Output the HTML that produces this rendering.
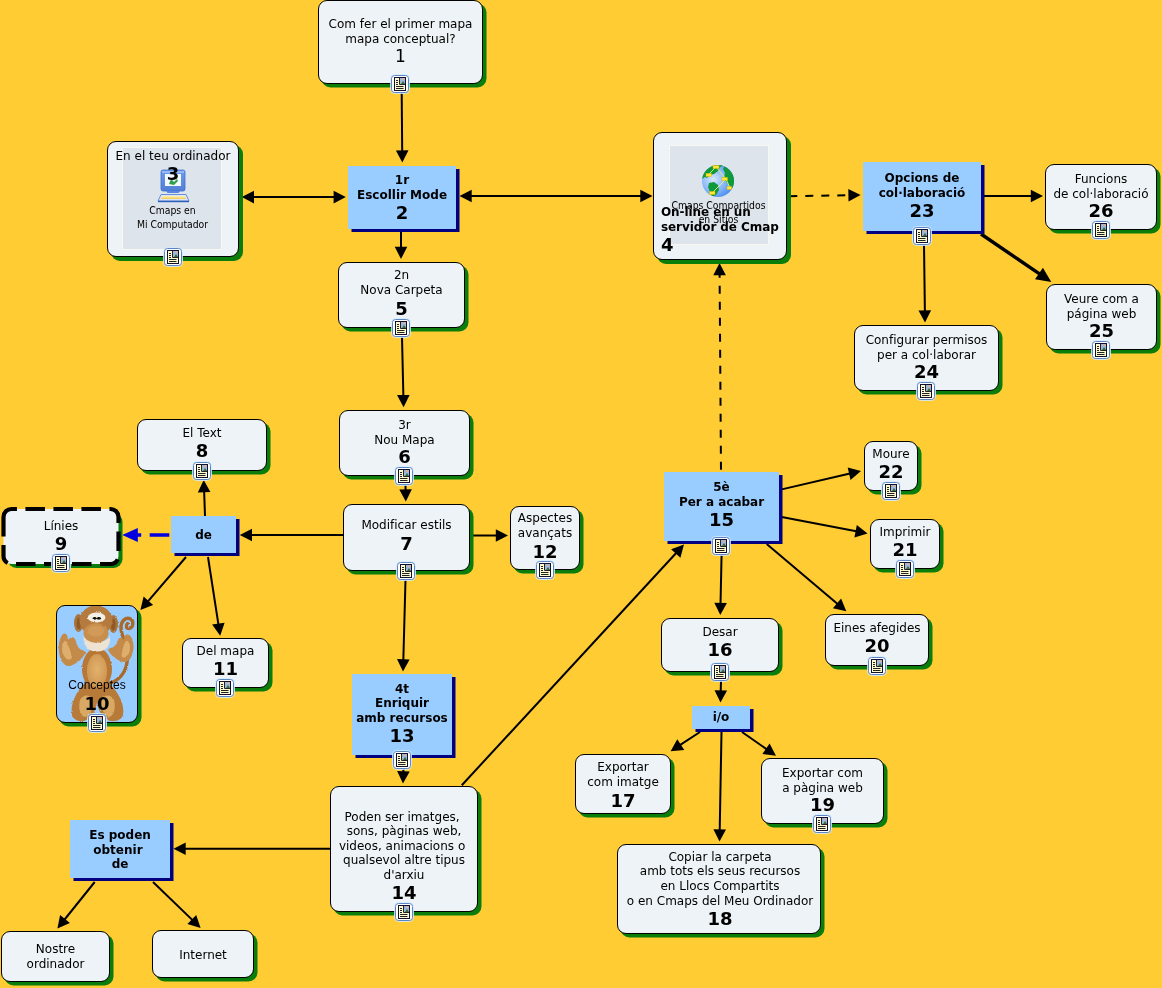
<!DOCTYPE html>
<html lang="ca"><head><meta charset="utf-8"><title>Com fer el primer mapa conceptual?</title>
<style>
html,body{margin:0;padding:0}
body{width:1162px;height:988px;background:#FFCC33;position:relative;overflow:hidden;font-family:"DejaVu Sans","Liberation Sans",sans-serif;font-size:12px;color:#000}
#edges{position:absolute;left:0;top:0}
.node{position:absolute;box-sizing:border-box;display:flex;align-items:center;justify-content:center;will-change:transform}
.w{background:#EDF3F6;border:1px solid #000;border-radius:9px;box-shadow:3.5px 3.5px 0 #0B7D0B}
.b{background:#99CCFF;box-shadow:3.5px 3px 0 #000080;font-weight:bold}
.t{position:relative;text-align:center;line-height:14.6px;white-space:nowrap}
.num{font-weight:bold;font-size:18px;line-height:18px;margin-top:2px}
.num.n1{font-weight:normal;font-size:17px}
.ic{position:absolute;overflow:visible}
.abs{position:absolute}
.img{position:absolute;background:#DEE4EB;border:1px solid #F8F8F0;box-sizing:border-box}
.numabs{font-weight:bold;font-size:18px;line-height:18px}
.tah{font-family:"DejaVu Sans Condensed","DejaVu Sans","Liberation Sans",sans-serif;font-size:10.3px;line-height:14px;white-space:nowrap}
.arial{font-family:"Liberation Sans",sans-serif;font-size:12px;line-height:14px}
</style></head><body>
<svg id="edges" width="1162" height="988" viewBox="0 0 1162 988">
<line x1="401.7" y1="93.0" x2="402.2" y2="152.3" stroke="#000" stroke-width="2"/>
<polygon points="402.3,162.5 395.9,150.4 408.5,150.2" fill="#000"/>
<line x1="252.0" y1="197.1" x2="335.6" y2="197.1" stroke="#000" stroke-width="2"/>
<polygon points="345.8,197.1 333.6,203.4 333.6,190.8" fill="#000"/>
<polygon points="241.8,197.1 254.0,190.8 254.0,203.4" fill="#000"/>
<line x1="469.7" y1="196.0" x2="642.3" y2="196.0" stroke="#000" stroke-width="2"/>
<polygon points="652.5,196.0 640.3,202.3 640.3,189.7" fill="#000"/>
<polygon points="459.5,196.0 471.7,189.7 471.7,202.3" fill="#000"/>
<line x1="401.0" y1="232.0" x2="401.0" y2="248.8" stroke="#000" stroke-width="2"/>
<polygon points="401.0,259.0 394.7,246.8 407.3,246.8" fill="#000"/>
<line x1="402.0" y1="337.0" x2="403.4" y2="397.0" stroke="#000" stroke-width="2"/>
<polygon points="403.6,407.2 397.0,395.1 409.6,394.9" fill="#000"/>
<line x1="405.5" y1="485.0" x2="405.6" y2="491.3" stroke="#000" stroke-width="2"/>
<polygon points="405.8,501.5 399.3,489.4 411.9,489.2" fill="#000"/>
<line x1="343.0" y1="535.0" x2="250.0" y2="535.0" stroke="#000" stroke-width="2"/>
<polygon points="239.8,535.0 252.0,528.7 252.0,541.3" fill="#000"/>
<line x1="470.0" y1="535.5" x2="497.8" y2="535.5" stroke="#000" stroke-width="2"/>
<polygon points="508.0,535.5 495.8,541.8 495.8,529.2" fill="#000"/>
<line x1="405.5" y1="580.0" x2="403.3" y2="661.3" stroke="#000" stroke-width="2"/>
<polygon points="403.0,671.5 397.0,659.1 409.6,659.5" fill="#000"/>
<line x1="205.0" y1="516.0" x2="204.1" y2="490.2" stroke="#000" stroke-width="2"/>
<polygon points="203.7,480.0 210.4,492.0 197.8,492.4" fill="#000"/>
<line x1="186.0" y1="557.0" x2="147.1" y2="602.3" stroke="#000" stroke-width="2"/>
<polygon points="140.4,610.0 143.6,596.6 153.1,604.9" fill="#000"/>
<line x1="208.0" y1="557.0" x2="218.6" y2="625.6" stroke="#000" stroke-width="2"/>
<polygon points="220.2,635.7 212.1,624.6 224.6,622.7" fill="#000"/>
<line x1="403.5" y1="768.0" x2="403.3" y2="773.3" stroke="#000" stroke-width="2"/>
<polygon points="403.0,783.5 397.1,771.1 409.7,771.5" fill="#000"/>
<line x1="331.0" y1="848.8" x2="183.7" y2="848.8" stroke="#000" stroke-width="2"/>
<polygon points="173.5,848.8 185.7,842.5 185.7,855.1" fill="#000"/>
<line x1="461.8" y1="785.2" x2="677.1" y2="552.0" stroke="#000" stroke-width="2"/>
<polygon points="684.0,544.5 680.4,557.7 671.1,549.2" fill="#000"/>
<line x1="94.7" y1="882.0" x2="63.8" y2="920.5" stroke="#000" stroke-width="2"/>
<polygon points="57.4,928.5 60.1,915.0 69.9,922.9" fill="#000"/>
<line x1="153.0" y1="882.0" x2="193.3" y2="920.9" stroke="#000" stroke-width="2"/>
<polygon points="200.6,928.0 187.4,924.1 196.2,915.0" fill="#000"/>
<line x1="721.0" y1="472.0" x2="719.6" y2="273.2" stroke="#000" stroke-width="2" stroke-dasharray="8 8" stroke-dashoffset="13.7"/>
<polygon points="719.5,263.0 725.9,275.2 713.3,275.2" fill="#000"/>
<line x1="787.0" y1="196.3" x2="850.4" y2="195.2" stroke="#000" stroke-width="2" stroke-dasharray="8 8" stroke-dashoffset="13.7"/>
<polygon points="860.6,195.0 848.5,201.5 848.3,188.9" fill="#000"/>
<line x1="984.0" y1="196.0" x2="1032.8" y2="196.0" stroke="#000" stroke-width="2"/>
<polygon points="1043.0,196.0 1030.8,202.3 1030.8,189.7" fill="#000"/>
<line x1="981.0" y1="234.0" x2="1040.6" y2="274.7" stroke="#000" stroke-width="3.4"/>
<polygon points="1051.3,282.0 1035.0,279.3 1042.9,267.8" fill="#000"/>
<line x1="924.0" y1="245.0" x2="924.9" y2="312.3" stroke="#000" stroke-width="2"/>
<polygon points="925.0,322.5 918.5,310.4 931.1,310.2" fill="#000"/>
<line x1="781.7" y1="489.4" x2="851.1" y2="473.3" stroke="#000" stroke-width="2"/>
<polygon points="861.0,471.0 850.5,479.9 847.7,467.6" fill="#000"/>
<line x1="781.7" y1="517.0" x2="857.6" y2="531.6" stroke="#000" stroke-width="2"/>
<polygon points="867.6,533.5 854.4,537.4 856.8,525.0" fill="#000"/>
<line x1="766.7" y1="544.0" x2="838.5" y2="604.7" stroke="#000" stroke-width="2"/>
<polygon points="846.3,611.3 832.9,608.2 841.1,598.6" fill="#000"/>
<line x1="721.6" y1="554.0" x2="720.5" y2="604.8" stroke="#000" stroke-width="2"/>
<polygon points="720.3,615.0 714.3,602.7 726.9,602.9" fill="#000"/>
<line x1="721.0" y1="681.0" x2="720.7" y2="692.3" stroke="#000" stroke-width="2"/>
<polygon points="720.5,702.5 714.5,690.2 727.1,690.4" fill="#000"/>
<line x1="700.0" y1="732.0" x2="679.1" y2="745.7" stroke="#000" stroke-width="2"/>
<polygon points="670.6,751.3 677.3,739.3 684.3,749.9" fill="#000"/>
<line x1="742.0" y1="732.0" x2="767.6" y2="749.9" stroke="#000" stroke-width="2"/>
<polygon points="776.0,755.7 762.4,753.9 769.6,743.6" fill="#000"/>
<line x1="721.5" y1="732.0" x2="719.7" y2="831.3" stroke="#000" stroke-width="2"/>
<polygon points="719.5,841.5 713.4,829.2 726.0,829.4" fill="#000"/>
<path d="M169.300 535H149.700M141.200 535H130" stroke="#0000E0" stroke-width="3.6" fill="none"/>
<polygon points="122.3,535.0 137.8,528.0 137.8,542.0" fill="#0000E0"/>
</svg>
<div class="node w" id="n1" style="left:318px;top:0px;width:165px;height:84px"><div class="t" style="top:-1px"><div class="l">Com fer el primer mapa</div><div class="l">mapa conceptual?</div><div class="num n1" style="margin-top:1px">1</div></div><svg class="ic" style="left:72px;bottom:-10px" width="18" height="18" viewBox="0 0 18 18"><rect x="-0.5" y="-0.5" width="19" height="19" rx="4" fill="none" stroke="#D6EBFF" stroke-opacity="0.85"/><rect x="0.5" y="0.5" width="17" height="17" rx="3" fill="#fff" stroke="#5B86C4"/><rect x="3.5" y="2.5" width="11" height="13" fill="#FFFBD0" stroke="#101030"/><rect x="8.5" y="3" width="5.5" height="6" fill="#9DB6DC"/><path d="M8.5 3v6.5h5.5" fill="none" stroke="#222" stroke-width="1"/><path d="M10 9l2-3 2 3z" fill="#3B6B3B"/><rect x="11.5" y="3.3" width="2" height="1.6" fill="#F0B080"/><path d="M5 5.5h2M5 7.5h2M5 9.5h2M5 11.5h7.5M5 13.5h7.5" stroke="#222" stroke-width="1"/></svg></div>
<div class="node w" id="n5" style="left:338px;top:262px;width:127px;height:66px"><div class="t" style="top:-2px"><div class="l">2n</div><div class="l">Nova Carpeta</div><div class="num">5</div></div><svg class="ic" style="left:53px;bottom:-10px" width="18" height="18" viewBox="0 0 18 18"><rect x="-0.5" y="-0.5" width="19" height="19" rx="4" fill="none" stroke="#D6EBFF" stroke-opacity="0.85"/><rect x="0.5" y="0.5" width="17" height="17" rx="3" fill="#fff" stroke="#5B86C4"/><rect x="3.5" y="2.5" width="11" height="13" fill="#FFFBD0" stroke="#101030"/><rect x="8.5" y="3" width="5.5" height="6" fill="#9DB6DC"/><path d="M8.5 3v6.5h5.5" fill="none" stroke="#222" stroke-width="1"/><path d="M10 9l2-3 2 3z" fill="#3B6B3B"/><rect x="11.5" y="3.3" width="2" height="1.6" fill="#F0B080"/><path d="M5 5.5h2M5 7.5h2M5 9.5h2M5 11.5h7.5M5 13.5h7.5" stroke="#222" stroke-width="1"/></svg></div>
<div class="node w" id="n6" style="left:339px;top:410px;width:131px;height:66px"><div class="t" style="top:-1px"><div class="l">3r</div><div class="l">Nou Mapa</div><div class="num" style="margin-top:1px">6</div></div><svg class="ic" style="left:55px;bottom:-10px" width="18" height="18" viewBox="0 0 18 18"><rect x="-0.5" y="-0.5" width="19" height="19" rx="4" fill="none" stroke="#D6EBFF" stroke-opacity="0.85"/><rect x="0.5" y="0.5" width="17" height="17" rx="3" fill="#fff" stroke="#5B86C4"/><rect x="3.5" y="2.5" width="11" height="13" fill="#FFFBD0" stroke="#101030"/><rect x="8.5" y="3" width="5.5" height="6" fill="#9DB6DC"/><path d="M8.5 3v6.5h5.5" fill="none" stroke="#222" stroke-width="1"/><path d="M10 9l2-3 2 3z" fill="#3B6B3B"/><rect x="11.5" y="3.3" width="2" height="1.6" fill="#F0B080"/><path d="M5 5.5h2M5 7.5h2M5 9.5h2M5 11.5h7.5M5 13.5h7.5" stroke="#222" stroke-width="1"/></svg></div>
<div class="node w" id="n7" style="left:343px;top:504px;width:127px;height:67px"><div class="t" style="top:-2px"><div class="l">Modificar estils</div><div class="num">7</div></div><svg class="ic" style="left:53px;bottom:-10px" width="18" height="18" viewBox="0 0 18 18"><rect x="-0.5" y="-0.5" width="19" height="19" rx="4" fill="none" stroke="#D6EBFF" stroke-opacity="0.85"/><rect x="0.5" y="0.5" width="17" height="17" rx="3" fill="#fff" stroke="#5B86C4"/><rect x="3.5" y="2.5" width="11" height="13" fill="#FFFBD0" stroke="#101030"/><rect x="8.5" y="3" width="5.5" height="6" fill="#9DB6DC"/><path d="M8.5 3v6.5h5.5" fill="none" stroke="#222" stroke-width="1"/><path d="M10 9l2-3 2 3z" fill="#3B6B3B"/><rect x="11.5" y="3.3" width="2" height="1.6" fill="#F0B080"/><path d="M5 5.5h2M5 7.5h2M5 9.5h2M5 11.5h7.5M5 13.5h7.5" stroke="#222" stroke-width="1"/></svg></div>
<div class="node w" id="n12" style="left:510px;top:506px;width:70px;height:64px"><div class="t" style="top:-2px"><div class="l">Aspectes</div><div class="l">avançats</div><div class="num">12</div></div><svg class="ic" style="left:25px;bottom:-10px" width="18" height="18" viewBox="0 0 18 18"><rect x="-0.5" y="-0.5" width="19" height="19" rx="4" fill="none" stroke="#D6EBFF" stroke-opacity="0.85"/><rect x="0.5" y="0.5" width="17" height="17" rx="3" fill="#fff" stroke="#5B86C4"/><rect x="3.5" y="2.5" width="11" height="13" fill="#FFFBD0" stroke="#101030"/><rect x="8.5" y="3" width="5.5" height="6" fill="#9DB6DC"/><path d="M8.5 3v6.5h5.5" fill="none" stroke="#222" stroke-width="1"/><path d="M10 9l2-3 2 3z" fill="#3B6B3B"/><rect x="11.5" y="3.3" width="2" height="1.6" fill="#F0B080"/><path d="M5 5.5h2M5 7.5h2M5 9.5h2M5 11.5h7.5M5 13.5h7.5" stroke="#222" stroke-width="1"/></svg></div>
<div class="node w" id="n8" style="left:137px;top:419px;width:130px;height:52px"><div class="t" style="top:-2px"><div class="l">El Text</div><div class="num">8</div></div><svg class="ic" style="left:55px;bottom:-10px" width="18" height="18" viewBox="0 0 18 18"><rect x="-0.5" y="-0.5" width="19" height="19" rx="4" fill="none" stroke="#D6EBFF" stroke-opacity="0.85"/><rect x="0.5" y="0.5" width="17" height="17" rx="3" fill="#fff" stroke="#5B86C4"/><rect x="3.5" y="2.5" width="11" height="13" fill="#FFFBD0" stroke="#101030"/><rect x="8.5" y="3" width="5.5" height="6" fill="#9DB6DC"/><path d="M8.5 3v6.5h5.5" fill="none" stroke="#222" stroke-width="1"/><path d="M10 9l2-3 2 3z" fill="#3B6B3B"/><rect x="11.5" y="3.3" width="2" height="1.6" fill="#F0B080"/><path d="M5 5.5h2M5 7.5h2M5 9.5h2M5 11.5h7.5M5 13.5h7.5" stroke="#222" stroke-width="1"/></svg></div>
<div class="node w" id="n11" style="left:182px;top:638px;width:87px;height:50px"><div class="t" style="top:-2px"><div class="l">Del mapa</div><div class="num">11</div></div><svg class="ic" style="left:33px;bottom:-10px" width="18" height="18" viewBox="0 0 18 18"><rect x="-0.5" y="-0.5" width="19" height="19" rx="4" fill="none" stroke="#D6EBFF" stroke-opacity="0.85"/><rect x="0.5" y="0.5" width="17" height="17" rx="3" fill="#fff" stroke="#5B86C4"/><rect x="3.5" y="2.5" width="11" height="13" fill="#FFFBD0" stroke="#101030"/><rect x="8.5" y="3" width="5.5" height="6" fill="#9DB6DC"/><path d="M8.5 3v6.5h5.5" fill="none" stroke="#222" stroke-width="1"/><path d="M10 9l2-3 2 3z" fill="#3B6B3B"/><rect x="11.5" y="3.3" width="2" height="1.6" fill="#F0B080"/><path d="M5 5.5h2M5 7.5h2M5 9.5h2M5 11.5h7.5M5 13.5h7.5" stroke="#222" stroke-width="1"/></svg></div>
<div class="node w" id="n14" style="left:330px;top:786px;width:148px;height:126px"><div class="t" style="top:7px"><div class="l">Poden ser imatges,&nbsp;</div><div class="l">sons, pàginas web,</div><div class="l">videos, animacions o&nbsp;</div><div class="l">qualsevol altre tipus</div><div class="l">d'arxiu</div><div class="num">14</div></div><svg class="ic" style="left:64px;bottom:-10px" width="18" height="18" viewBox="0 0 18 18"><rect x="-0.5" y="-0.5" width="19" height="19" rx="4" fill="none" stroke="#D6EBFF" stroke-opacity="0.85"/><rect x="0.5" y="0.5" width="17" height="17" rx="3" fill="#fff" stroke="#5B86C4"/><rect x="3.5" y="2.5" width="11" height="13" fill="#FFFBD0" stroke="#101030"/><rect x="8.5" y="3" width="5.5" height="6" fill="#9DB6DC"/><path d="M8.5 3v6.5h5.5" fill="none" stroke="#222" stroke-width="1"/><path d="M10 9l2-3 2 3z" fill="#3B6B3B"/><rect x="11.5" y="3.3" width="2" height="1.6" fill="#F0B080"/><path d="M5 5.5h2M5 7.5h2M5 9.5h2M5 11.5h7.5M5 13.5h7.5" stroke="#222" stroke-width="1"/></svg></div>
<div class="node w" id="nno" style="left:1px;top:931px;width:109px;height:51px"><div class="t" style="top:0px"><div class="l">Nostre</div><div class="l">ordinador</div></div></div>
<div class="node w" id="nin" style="left:152px;top:930px;width:102px;height:48px"><div class="t" style="top:1px"><div class="l">Internet</div></div></div>
<div class="node w" id="n22" style="left:864px;top:441px;width:54px;height:50px"><div class="t" style="top:-2px"><div class="l">Moure</div><div class="num">22</div></div><svg class="ic" style="left:17px;bottom:-10px" width="18" height="18" viewBox="0 0 18 18"><rect x="-0.5" y="-0.5" width="19" height="19" rx="4" fill="none" stroke="#D6EBFF" stroke-opacity="0.85"/><rect x="0.5" y="0.5" width="17" height="17" rx="3" fill="#fff" stroke="#5B86C4"/><rect x="3.5" y="2.5" width="11" height="13" fill="#FFFBD0" stroke="#101030"/><rect x="8.5" y="3" width="5.5" height="6" fill="#9DB6DC"/><path d="M8.5 3v6.5h5.5" fill="none" stroke="#222" stroke-width="1"/><path d="M10 9l2-3 2 3z" fill="#3B6B3B"/><rect x="11.5" y="3.3" width="2" height="1.6" fill="#F0B080"/><path d="M5 5.5h2M5 7.5h2M5 9.5h2M5 11.5h7.5M5 13.5h7.5" stroke="#222" stroke-width="1"/></svg></div>
<div class="node w" id="n21" style="left:870px;top:519px;width:70px;height:50px"><div class="t" style="top:-2px"><div class="l">Imprimir</div><div class="num">21</div></div><svg class="ic" style="left:25px;bottom:-10px" width="18" height="18" viewBox="0 0 18 18"><rect x="-0.5" y="-0.5" width="19" height="19" rx="4" fill="none" stroke="#D6EBFF" stroke-opacity="0.85"/><rect x="0.5" y="0.5" width="17" height="17" rx="3" fill="#fff" stroke="#5B86C4"/><rect x="3.5" y="2.5" width="11" height="13" fill="#FFFBD0" stroke="#101030"/><rect x="8.5" y="3" width="5.5" height="6" fill="#9DB6DC"/><path d="M8.5 3v6.5h5.5" fill="none" stroke="#222" stroke-width="1"/><path d="M10 9l2-3 2 3z" fill="#3B6B3B"/><rect x="11.5" y="3.3" width="2" height="1.6" fill="#F0B080"/><path d="M5 5.5h2M5 7.5h2M5 9.5h2M5 11.5h7.5M5 13.5h7.5" stroke="#222" stroke-width="1"/></svg></div>
<div class="node w" id="n20" style="left:825px;top:614px;width:104px;height:52px"><div class="t" style="top:-2px"><div class="l">Eines afegides</div><div class="num">20</div></div><svg class="ic" style="left:42px;bottom:-10px" width="18" height="18" viewBox="0 0 18 18"><rect x="-0.5" y="-0.5" width="19" height="19" rx="4" fill="none" stroke="#D6EBFF" stroke-opacity="0.85"/><rect x="0.5" y="0.5" width="17" height="17" rx="3" fill="#fff" stroke="#5B86C4"/><rect x="3.5" y="2.5" width="11" height="13" fill="#FFFBD0" stroke="#101030"/><rect x="8.5" y="3" width="5.5" height="6" fill="#9DB6DC"/><path d="M8.5 3v6.5h5.5" fill="none" stroke="#222" stroke-width="1"/><path d="M10 9l2-3 2 3z" fill="#3B6B3B"/><rect x="11.5" y="3.3" width="2" height="1.6" fill="#F0B080"/><path d="M5 5.5h2M5 7.5h2M5 9.5h2M5 11.5h7.5M5 13.5h7.5" stroke="#222" stroke-width="1"/></svg></div>
<div class="node w" id="n16" style="left:661px;top:618px;width:118px;height:54px"><div class="t" style="top:-3px"><div class="l">Desar</div><div class="num">16</div></div><svg class="ic" style="left:49px;bottom:-10px" width="18" height="18" viewBox="0 0 18 18"><rect x="-0.5" y="-0.5" width="19" height="19" rx="4" fill="none" stroke="#D6EBFF" stroke-opacity="0.85"/><rect x="0.5" y="0.5" width="17" height="17" rx="3" fill="#fff" stroke="#5B86C4"/><rect x="3.5" y="2.5" width="11" height="13" fill="#FFFBD0" stroke="#101030"/><rect x="8.5" y="3" width="5.5" height="6" fill="#9DB6DC"/><path d="M8.5 3v6.5h5.5" fill="none" stroke="#222" stroke-width="1"/><path d="M10 9l2-3 2 3z" fill="#3B6B3B"/><rect x="11.5" y="3.3" width="2" height="1.6" fill="#F0B080"/><path d="M5 5.5h2M5 7.5h2M5 9.5h2M5 11.5h7.5M5 13.5h7.5" stroke="#222" stroke-width="1"/></svg></div>
<div class="node w" id="n17" style="left:575px;top:754px;width:96px;height:60px"><div class="t" style="top:1px"><div class="l">Exportar</div><div class="l">com imatge</div><div class="num">17</div></div></div>
<div class="node w" id="n19" style="left:761px;top:758px;width:123px;height:66px"><div class="t" style="top:-1px"><div class="l">Exportar com</div><div class="l">a pàgina web</div><div class="num" style="margin-top:1px">19</div></div><svg class="ic" style="left:51px;bottom:-10px" width="18" height="18" viewBox="0 0 18 18"><rect x="-0.5" y="-0.5" width="19" height="19" rx="4" fill="none" stroke="#D6EBFF" stroke-opacity="0.85"/><rect x="0.5" y="0.5" width="17" height="17" rx="3" fill="#fff" stroke="#5B86C4"/><rect x="3.5" y="2.5" width="11" height="13" fill="#FFFBD0" stroke="#101030"/><rect x="8.5" y="3" width="5.5" height="6" fill="#9DB6DC"/><path d="M8.5 3v6.5h5.5" fill="none" stroke="#222" stroke-width="1"/><path d="M10 9l2-3 2 3z" fill="#3B6B3B"/><rect x="11.5" y="3.3" width="2" height="1.6" fill="#F0B080"/><path d="M5 5.5h2M5 7.5h2M5 9.5h2M5 11.5h7.5M5 13.5h7.5" stroke="#222" stroke-width="1"/></svg></div>
<div class="node w" id="n18" style="left:617px;top:844px;width:204px;height:90px"><div class="t" style="top:0px;left:1px"><div class="l">Copiar la carpeta</div><div class="l">amb tots els seus recursos</div><div class="l">en Llocs Compartits</div><div class="l">o en Cmaps del Meu Ordinador</div><div class="num">18</div></div></div>
<div class="node w" id="n26" style="left:1045px;top:164px;width:112px;height:66px"><div class="t" style="top:-1px"><div class="l">Funcions</div><div class="l">de col·laboració</div><div class="num" style="margin-top:1px">26</div></div><svg class="ic" style="left:46px;bottom:-10px" width="18" height="18" viewBox="0 0 18 18"><rect x="-0.5" y="-0.5" width="19" height="19" rx="4" fill="none" stroke="#D6EBFF" stroke-opacity="0.85"/><rect x="0.5" y="0.5" width="17" height="17" rx="3" fill="#fff" stroke="#5B86C4"/><rect x="3.5" y="2.5" width="11" height="13" fill="#FFFBD0" stroke="#101030"/><rect x="8.5" y="3" width="5.5" height="6" fill="#9DB6DC"/><path d="M8.5 3v6.5h5.5" fill="none" stroke="#222" stroke-width="1"/><path d="M10 9l2-3 2 3z" fill="#3B6B3B"/><rect x="11.5" y="3.3" width="2" height="1.6" fill="#F0B080"/><path d="M5 5.5h2M5 7.5h2M5 9.5h2M5 11.5h7.5M5 13.5h7.5" stroke="#222" stroke-width="1"/></svg></div>
<div class="node w" id="n25" style="left:1046px;top:284px;width:111px;height:66px"><div class="t" style="top:-1px"><div class="l">Veure com a</div><div class="l">página web</div><div class="num" style="margin-top:1px">25</div></div><svg class="ic" style="left:45px;bottom:-10px" width="18" height="18" viewBox="0 0 18 18"><rect x="-0.5" y="-0.5" width="19" height="19" rx="4" fill="none" stroke="#D6EBFF" stroke-opacity="0.85"/><rect x="0.5" y="0.5" width="17" height="17" rx="3" fill="#fff" stroke="#5B86C4"/><rect x="3.5" y="2.5" width="11" height="13" fill="#FFFBD0" stroke="#101030"/><rect x="8.5" y="3" width="5.5" height="6" fill="#9DB6DC"/><path d="M8.5 3v6.5h5.5" fill="none" stroke="#222" stroke-width="1"/><path d="M10 9l2-3 2 3z" fill="#3B6B3B"/><rect x="11.5" y="3.3" width="2" height="1.6" fill="#F0B080"/><path d="M5 5.5h2M5 7.5h2M5 9.5h2M5 11.5h7.5M5 13.5h7.5" stroke="#222" stroke-width="1"/></svg></div>
<div class="node w" id="n24" style="left:854px;top:325px;width:145px;height:66px"><div class="t" style="top:-1px"><div class="l">Configurar permisos</div><div class="l">per a col·laborar</div><div class="num" style="margin-top:1px">24</div></div><svg class="ic" style="left:62px;bottom:-10px" width="18" height="18" viewBox="0 0 18 18"><rect x="-0.5" y="-0.5" width="19" height="19" rx="4" fill="none" stroke="#D6EBFF" stroke-opacity="0.85"/><rect x="0.5" y="0.5" width="17" height="17" rx="3" fill="#fff" stroke="#5B86C4"/><rect x="3.5" y="2.5" width="11" height="13" fill="#FFFBD0" stroke="#101030"/><rect x="8.5" y="3" width="5.5" height="6" fill="#9DB6DC"/><path d="M8.5 3v6.5h5.5" fill="none" stroke="#222" stroke-width="1"/><path d="M10 9l2-3 2 3z" fill="#3B6B3B"/><rect x="11.5" y="3.3" width="2" height="1.6" fill="#F0B080"/><path d="M5 5.5h2M5 7.5h2M5 9.5h2M5 11.5h7.5M5 13.5h7.5" stroke="#222" stroke-width="1"/></svg></div>
<div class="node b" id="b2" style="left:348px;top:166px;width:108px;height:63px"><div class="t" style="top:0px"><div class="l">1r</div><div class="l">Escollir Mode</div><div class="num">2</div></div></div>
<div class="node b" id="b23" style="left:863px;top:162px;width:118px;height:69px"><div class="t" style="top:-1px"><div class="l">Opcions de</div><div class="l">col·laboració</div><div class="num">23</div></div><svg class="ic" style="left:50px;bottom:-14px" width="18" height="18" viewBox="0 0 18 18"><rect x="-0.5" y="-0.5" width="19" height="19" rx="4" fill="none" stroke="#D6EBFF" stroke-opacity="0.85"/><rect x="0.5" y="0.5" width="17" height="17" rx="3" fill="#fff" stroke="#5B86C4"/><rect x="3.5" y="2.5" width="11" height="13" fill="#FFFBD0" stroke="#101030"/><rect x="8.5" y="3" width="5.5" height="6" fill="#9DB6DC"/><path d="M8.5 3v6.5h5.5" fill="none" stroke="#222" stroke-width="1"/><path d="M10 9l2-3 2 3z" fill="#3B6B3B"/><rect x="11.5" y="3.3" width="2" height="1.6" fill="#F0B080"/><path d="M5 5.5h2M5 7.5h2M5 9.5h2M5 11.5h7.5M5 13.5h7.5" stroke="#222" stroke-width="1"/></svg></div>
<div class="node b" id="bde" style="left:171px;top:516px;width:65px;height:37px"><div class="t" style="top:1px"><div class="l">de</div></div></div>
<div class="node b" id="b13" style="left:352px;top:674px;width:100px;height:81px"><div class="t" style="top:-1px"><div class="l">4t</div><div class="l">Enriquir</div><div class="l">amb recursos</div><div class="num">13</div></div><svg class="ic" style="left:41px;bottom:-14px" width="18" height="18" viewBox="0 0 18 18"><rect x="-0.5" y="-0.5" width="19" height="19" rx="4" fill="none" stroke="#D6EBFF" stroke-opacity="0.85"/><rect x="0.5" y="0.5" width="17" height="17" rx="3" fill="#fff" stroke="#5B86C4"/><rect x="3.5" y="2.5" width="11" height="13" fill="#FFFBD0" stroke="#101030"/><rect x="8.5" y="3" width="5.5" height="6" fill="#9DB6DC"/><path d="M8.5 3v6.5h5.5" fill="none" stroke="#222" stroke-width="1"/><path d="M10 9l2-3 2 3z" fill="#3B6B3B"/><rect x="11.5" y="3.3" width="2" height="1.6" fill="#F0B080"/><path d="M5 5.5h2M5 7.5h2M5 9.5h2M5 11.5h7.5M5 13.5h7.5" stroke="#222" stroke-width="1"/></svg></div>
<div class="node b" id="bes" style="left:70px;top:820px;width:100px;height:58px"><div class="t" style="top:1px"><div class="l">Es poden</div><div class="l">obtenir&nbsp;</div><div class="l">de</div></div></div>
<div class="node b" id="b15" style="left:664px;top:472px;width:115px;height:69px"><div class="t" style="top:-2px"><div class="l">5è</div><div class="l">Per a acabar</div><div class="num">15</div></div><svg class="ic" style="left:48px;bottom:-14px" width="18" height="18" viewBox="0 0 18 18"><rect x="-0.5" y="-0.5" width="19" height="19" rx="4" fill="none" stroke="#D6EBFF" stroke-opacity="0.85"/><rect x="0.5" y="0.5" width="17" height="17" rx="3" fill="#fff" stroke="#5B86C4"/><rect x="3.5" y="2.5" width="11" height="13" fill="#FFFBD0" stroke="#101030"/><rect x="8.5" y="3" width="5.5" height="6" fill="#9DB6DC"/><path d="M8.5 3v6.5h5.5" fill="none" stroke="#222" stroke-width="1"/><path d="M10 9l2-3 2 3z" fill="#3B6B3B"/><rect x="11.5" y="3.3" width="2" height="1.6" fill="#F0B080"/><path d="M5 5.5h2M5 7.5h2M5 9.5h2M5 11.5h7.5M5 13.5h7.5" stroke="#222" stroke-width="1"/></svg></div>
<div class="node b" id="bio" style="left:692px;top:706px;width:58px;height:23px"><div class="t" style="top:0px"><div class="l">i/o</div></div></div>
<div class="node w" id="n3" style="left:107px;top:141px;width:132px;height:116px;display:block;box-shadow:4px 4px 0 #0B7D0B">
<div class="img" style="left:14px;top:5px;width:100px;height:103px"></div>
<div class="abs" style="left:0;width:130px;top:7px;text-align:center;line-height:15px">En el teu ordinador</div>
<svg class="abs" style="left:48px;top:26px" width="36" height="36" viewBox="0 0 36 36">
<defs><linearGradient id="mon" x1="0" y1="0" x2="0" y2="1"><stop offset="0" stop-color="#6F9CEB"/><stop offset="1" stop-color="#4F7FD6"/></linearGradient>
<linearGradient id="kb" x1="0" y1="0" x2="0" y2="1"><stop offset="0" stop-color="#FFF3B0"/><stop offset="1" stop-color="#F3C95A"/></linearGradient></defs>
<rect x="5" y="2" width="24" height="21" rx="2" fill="url(#mon)" stroke="#3F6FD0" stroke-width="0.8"/>
<rect x="6" y="3" width="22" height="2" fill="#A9C4F5" opacity="0.7"/>
<rect x="9" y="6" width="16" height="12" fill="#F4FAFF"/>
<path d="M13 16l2-5 3 3 3-3 1 2-4 4z" fill="#2FA04A"/>
<path d="M10 23h14l-1.500 2h-11z" fill="#5C86DE"/>
<path d="M5 26.500h25l3 6.500h-31z" fill="#DCE6F7" stroke="#4A78D0" stroke-width="0.8"/>
<path d="M6.500 28h22l1.600 3h-25.200z" fill="url(#kb)"/>
<path d="M2 33.500h31" stroke="#2E5FB8" stroke-width="1.400"/>
</svg>
<div class="abs numabs" style="left:0;width:130px;top:23px;text-align:center">3</div>
<div class="abs tah" style="left:0;width:129px;top:61px;text-align:center">Cmaps en<br>Mi Computador</div>
<svg class="ic" style="left:56px;bottom:-10px" width="18" height="18" viewBox="0 0 18 18"><rect x="-0.5" y="-0.5" width="19" height="19" rx="4" fill="none" stroke="#D6EBFF" stroke-opacity="0.85"/><rect x="0.5" y="0.5" width="17" height="17" rx="3" fill="#fff" stroke="#5B86C4"/><rect x="3.5" y="2.5" width="11" height="13" fill="#FFFBD0" stroke="#101030"/><rect x="8.5" y="3" width="5.5" height="6" fill="#9DB6DC"/><path d="M8.5 3v6.5h5.5" fill="none" stroke="#222" stroke-width="1"/><path d="M10 9l2-3 2 3z" fill="#3B6B3B"/><rect x="11.5" y="3.3" width="2" height="1.6" fill="#F0B080"/><path d="M5 5.5h2M5 7.5h2M5 9.5h2M5 11.5h7.5M5 13.5h7.5" stroke="#222" stroke-width="1"/></svg></div>
<div class="node w" id="n4" style="left:653px;top:132px;width:134px;height:128px;display:block;box-shadow:4px 4px 0 #0B7D0B">
<div class="img" style="left:15px;top:12px;width:100px;height:100px"></div>
<svg class="abs" style="left:46px;top:30px" width="36" height="36" viewBox="0 0 36 36">
<defs><radialGradient id="gl" cx="0.35" cy="0.45" r="0.75"><stop offset="0" stop-color="#D8E8FF"/><stop offset="0.55" stop-color="#7FB0F8"/><stop offset="1" stop-color="#2F7BF0"/></radialGradient>
<clipPath id="gc"><circle cx="18" cy="18" r="16"/></clipPath></defs>
<circle cx="18" cy="18" r="16" fill="url(#gl)"/>
<g clip-path="url(#gc)" fill="#0E9A3A">
<path d="M0 0h26l-3 3 -3 1 -2 4 -4 3 -4 1 -3 3 -2 -1 -3 2 -2 4z"/>
<path d="M25 2l9 8 2 16 -5 -2 -4 -4 -3 -5 1 -5 -2 -4z"/>
<path d="M9 20l5-1 4 3 1 5-3 5-4 2-2-5-2-5z"/>
</g>
<path d="M8 12l8-8 10 12 4 9M26 16L12 30" stroke="#E8F870" stroke-width="0.9" fill="none"/>
<g fill="#FFE838" stroke="#D9B800" stroke-width="0.500"><rect x="13" y="2.500" width="6" height="3"/><rect x="6" y="10.500" width="5.500" height="3"/><rect x="22" y="14.500" width="5.500" height="3"/><rect x="27" y="23.500" width="4.500" height="3"/><rect x="9.500" y="28.500" width="5.500" height="3"/></g>
</svg>
<div class="abs tah" style="left:15px;width:99px;top:65px;text-align:center;line-height:14px">Cmaps Compartidos<br>en Sitios</div>
<div class="abs" style="left:7px;top:72px;font-weight:bold;line-height:14.500px;white-space:nowrap;letter-spacing:-0.080px">On-line en un<br>servidor de Cmap</div>
<div class="abs numabs" style="left:7px;top:103px">4</div>
</div>
<svg class="abs" style="left:0;top:500px" width="130" height="80" viewBox="0 500 130 80">
<rect x="7.500" y="513" width="115" height="55" rx="9" fill="#0B7D0B"/>
<path d="M3.500 517V556A8 8 0 0 0 11.500 564H110.500A8 8 0 0 0 118.500 556V517A8 8 0 0 0 110.500 509H11.500A8 8 0 0 0 3.500 517Z" fill="#EDF3F6" stroke="#000" stroke-width="4.200" stroke-dasharray="19.500 8.500"/>
</svg>
<div class="node" id="n9" style="left:3px;top:508px;width:116px;height:58px"><div class="t" style="top:-1px"><div class="l">Línies</div><div class="num">9</div></div><svg class="ic" style="left:49px;top:46px" width="18" height="18" viewBox="0 0 18 18"><rect x="-0.5" y="-0.5" width="19" height="19" rx="4" fill="none" stroke="#D6EBFF" stroke-opacity="0.85"/><rect x="0.5" y="0.5" width="17" height="17" rx="3" fill="#fff" stroke="#5B86C4"/><rect x="3.5" y="2.5" width="11" height="13" fill="#FFFBD0" stroke="#101030"/><rect x="8.5" y="3" width="5.5" height="6" fill="#9DB6DC"/><path d="M8.5 3v6.5h5.5" fill="none" stroke="#222" stroke-width="1"/><path d="M10 9l2-3 2 3z" fill="#3B6B3B"/><rect x="11.5" y="3.3" width="2" height="1.6" fill="#F0B080"/><path d="M5 5.5h2M5 7.5h2M5 9.5h2M5 11.5h7.5M5 13.5h7.5" stroke="#222" stroke-width="1"/></svg></div>
<div class="node w" id="n10" style="left:56px;top:605px;width:82px;height:118px;display:block;background:#99CCFF;overflow:visible">
<svg class="abs" style="left:0;top:0;border-radius:8px" width="80" height="116" viewBox="57 606 80 116">
<defs><filter id="fz" x="-10%" y="-10%" width="120%" height="120%"><feTurbulence type="fractalNoise" baseFrequency="0.8" numOctaves="2" seed="7" result="n"/><feDisplacementMap in="SourceGraphic" in2="n" scale="2.200" xChannelSelector="R" yChannelSelector="G"/><feGaussianBlur stdDeviation="0.350"/></filter>
<radialGradient id="mb" cx="0.5" cy="0.45" r="0.6"><stop offset="0" stop-color="#E3B26C"/><stop offset="1" stop-color="#CB9350"/></radialGradient></defs>
<g filter="url(#fz)">
<path d="M110 683 C121 680 127 670 127.500 658 C128 646 122 638 121 629 C120.500 621 126 616.500 130.500 619 C134.500 621.500 133 628 129 628.500 C126 628.500 125.500 625 127.500 623.500" fill="none" stroke="#A8692C" stroke-width="3.400" stroke-linecap="round"/>
<path d="M86 652 C82 660 76 664 70 666 C64 667 60 660 59 652 C58 644 60 637 63 634 C66 632 68 636 68 640 C70 637 73 636 75 639 C77 644 78 649 82 650z" fill="#C48A48"/>
<path d="M62 650 C62 644 64 640 66 641 C69 646 71 652 72 658 C69 662 63 658 62 650z" fill="#DDAE6C"/>
<path d="M108 650 C112 657 118 661 124 662 C130 662 133 655 133.500 648 C134 641 131 635 128 634.500 C125 634 124 637 124 640 C122 637 119 637 118 640 C116 645 114 648 110 648z" fill="#C48A48"/>
<path d="M130 648 C130 643 128 640 126 641 C123 645 122 651 121.500 656 C124 660 130 656 130 648z" fill="#DDAE6C"/>
<path d="M84 684 C76 692 70 704 72 715 C74 722 84 723 90 718 C94 714 96 708 97 702 C98 708 100 714 104 718 C110 723 121 722 123 715 C125 704 118 692 110 684z" fill="#B87A38"/>
<path d="M80 700 C78 708 80 716 85 717 C90 716 93 708 93 700 C90 694 83 694 80 700z" fill="#D9A964"/>
<path d="M101 700 C101 708 104 716 109 717 C114 716 116 708 114 700 C111 694 104 694 101 700z" fill="#D9A964"/>
<ellipse cx="97" cy="669" rx="15" ry="21" fill="#B87836"/>
<ellipse cx="97" cy="671" rx="10" ry="17" fill="url(#mb)"/>
<ellipse cx="78.500" cy="623" rx="4.500" ry="9" fill="#A9733A"/><ellipse cx="113.500" cy="624" rx="4.500" ry="9" fill="#A9733A"/>
<ellipse cx="78.800" cy="623.500" rx="2.300" ry="6" fill="#8F5A28"/><ellipse cx="113.200" cy="624.500" rx="2.300" ry="6" fill="#8F5A28"/>
<ellipse cx="96" cy="620.500" rx="16.500" ry="15" fill="#B57A3C"/>
<path d="M83.500 636 C83 646 88 651.500 97 651.500 C106 651.500 111 646 110 636 C107 644 87 644 83.500 636z" fill="#EEE3D2"/>
<ellipse cx="96" cy="633" rx="12.500" ry="10" fill="#C98E4C"/>
<ellipse cx="96" cy="631" rx="8" ry="5.500" fill="#D29A58"/>
<ellipse cx="96.600" cy="617.500" rx="8.800" ry="5" fill="#F4EFE6"/>
</g>
<path d="M92.500 618.500 C93 616.500 96 616.500 96.800 618.200 C97.600 616.500 100.500 616.500 101.200 618.500 C100.500 620 97.600 620 96.800 618.800 C96 620 93 620 92.500 618.500z" fill="#17110a"/>
</svg>
<div class="abs arial" style="left:0;width:80px;top:72px;text-align:center">Conceptes</div>
<div class="abs numabs" style="left:0;width:80px;top:89px;text-align:center">10</div>
<svg class="ic" style="left:31px;bottom:-10px" width="18" height="18" viewBox="0 0 18 18"><rect x="-0.5" y="-0.5" width="19" height="19" rx="4" fill="none" stroke="#D6EBFF" stroke-opacity="0.85"/><rect x="0.5" y="0.5" width="17" height="17" rx="3" fill="#fff" stroke="#5B86C4"/><rect x="3.5" y="2.5" width="11" height="13" fill="#FFFBD0" stroke="#101030"/><rect x="8.5" y="3" width="5.5" height="6" fill="#9DB6DC"/><path d="M8.5 3v6.5h5.5" fill="none" stroke="#222" stroke-width="1"/><path d="M10 9l2-3 2 3z" fill="#3B6B3B"/><rect x="11.5" y="3.3" width="2" height="1.6" fill="#F0B080"/><path d="M5 5.5h2M5 7.5h2M5 9.5h2M5 11.5h7.5M5 13.5h7.5" stroke="#222" stroke-width="1"/></svg></div>
</body></html>
